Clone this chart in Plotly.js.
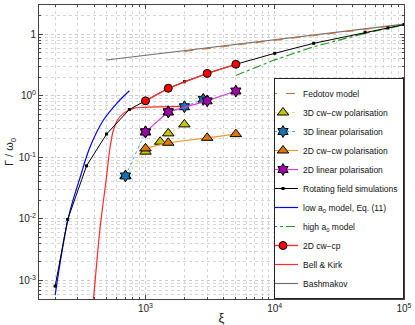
<!DOCTYPE html>
<html>
<head>
<meta charset="utf-8">
<script src="https://cdn.plot.ly/plotly-3.0.1.min.js"></script>
<style>
  body { margin: 0; background: #fff; }
  #grafica { width: 415px; height: 325px; }
</style>
</head>
<body>
<div id="grafica"></div>
<script>
// === Datos (xi, Gamma/omega0) ===
const xiRot = [200, 250, 350, 500, 750, 1000, 1500, 2000, 3000, 5000, 10000, 20000, 50000, 75000, 100000];
const gRot = [8.1e-4, 0.0098, 0.073, 0.24, 0.60, 0.83, 1.33, 1.70, 2.32, 3.26, 4.92, 7.15, 10.8, 12.7, 14.4];

const xiCp = [1000, 1500, 3000, 5000];
const gCp = [0.83, 1.33, 2.32, 3.26];

const xi3dCw = [700, 1000, 1300, 1500, 2000];
const g3dCw = [0.050, 0.124, 0.18, 0.246, 0.344];

const xi3dLin = [700, 1000, 1500, 2000, 2800];
const g3dLin = [0.050, 0.26, 0.55, 0.666, 0.88];

const xi2dCw = [1000, 1500, 3000, 5000];
const g2dCw = [0.140, 0.173, 0.208, 0.239];

const xi2dLin = [1000, 1500, 3000, 5000];
const g2dLin = [0.26, 0.55, 0.83, 1.2];

const xiLow = [200, 254, 313, 373, 473, 600, 751];
const gLow = [5.8e-4, 0.0108, 0.0484, 0.149, 0.405, 0.757, 1.21];

const xiHigh = [5000, 10000, 20000, 50000, 100000];
const gHigh = [2.15, 3.85, 6.3, 10.4, 14.2];

const xiBK = [396, 421, 446, 496, 533, 565, 607, 675, 807, 964, 1297, 2022];
const gBK = [5e-4, 2.1e-3, 7.4e-3, 0.043, 0.149, 0.279, 0.405, 0.52, 0.627, 0.651, 0.665, 0.676];

const xiFed = [2000, 100000];
const gFed = [5.3, 14.5];

const xiBash = [500, 100000];
const gBash = [3.83, 14.7];

const xTicks = [1e3, 1e4, 1e5];
const xTickText = ['10<sup>3</sup>', '10<sup>4</sup>', '10<sup>5</sup>'];
const yTicks = [1e-3, 1e-2, 1e-1, 1, 10];
const yTickText = ['10<sup>-3</sup>', '10<sup>-2</sup>', '10<sup>-1</sup>', '10<sup>0</sup>', '1'];

// === Rejilla menor (2..9 en cada década) ===
const menores = (dMin, dMax) => {
  const v = [];
  for (let d = dMin; d <= dMax; d++) {
    for (let k = 2; k <= 9; k++) v.push(k * Math.pow(10, d));
  }
  return v;
};

const traces = [
  { x: xiBash, y: gBash, name: 'Bashmakov', mode: 'lines',
    line: { color: '#707070', width: 1.2 }, legendrank: 11 },
  { x: xiFed, y: gFed, name: 'Fedotov model', mode: 'lines',
    line: { color: '#c07040', width: 1.2, dash: 'dash' }, legendrank: 1 },
  { x: xiBK, y: gBK, name: 'Bell &amp; Kirk', mode: 'lines',
    line: { color: '#ff2a2a', width: 1.2, shape: 'spline' }, legendrank: 10 },
  { x: xiLow, y: gLow, name: 'low a<sub>0</sub> model, Eq. (11)', mode: 'lines',
    line: { color: '#0000ff', width: 1.2, shape: 'spline' }, legendrank: 7 },
  { x: xiHigh, y: gHigh, name: 'high a<sub>0</sub> model', mode: 'lines',
    line: { color: '#1e9a1e', width: 1.1, dash: 'dashdot' }, legendrank: 8 },
  { x: xiRot, y: gRot, name: 'Rotating field simulations', mode: 'lines+markers',
    line: { color: '#000000', width: 1 },
    marker: { symbol: 'square', size: 3, color: '#000000' }, legendrank: 6 },
  { x: xiCp, y: gCp, name: '2D cw−cp', mode: 'lines+markers',
    line: { color: '#ff3030', width: 1.4 },
    marker: { symbol: 'circle', size: 8, color: '#ff0000', line: { color: '#000', width: 1 } },
    legendrank: 9 },
  { x: xi3dCw, y: g3dCw, name: '3D cw−cw polarisation', mode: 'lines+markers',
    line: { color: '#e4e27a', width: 1, dash: 'dot' },
    marker: { symbol: 'triangle-up', size: 10, color: '#c8c400', line: { color: '#000', width: 1 } },
    legendrank: 2 },
  { x: xi2dCw, y: g2dCw, name: '2D cw−cw polarisation', mode: 'lines+markers',
    line: { color: '#f09a30', width: 1.2 },
    marker: { symbol: 'triangle-up', size: 10, color: '#e07800', line: { color: '#000', width: 1 } },
    legendrank: 4 },
  { x: xi3dLin, y: g3dLin, name: '3D linear polarisation', mode: 'lines+markers',
    line: { color: '#4aa6e6', width: 1, dash: 'dot' },
    marker: { symbol: 'hexagram', size: 9, color: '#1a72b0', line: { color: '#000', width: 1 } },
    legendrank: 3 },
  { x: xi2dLin, y: g2dLin, name: '2D linear polarisation', mode: 'lines+markers',
    line: { color: '#d040d8', width: 1.2 },
    marker: { symbol: 'hexagram', size: 9, color: '#a000a8', line: { color: '#000', width: 1 } },
    legendrank: 5 }
];

const ejeComun = {
  type: 'log',
  ticks: 'inside',
  ticklen: 4,
  tickcolor: '#444',
  showline: true,
  linecolor: '#444',
  linewidth: 1,
  mirror: 'ticks',
  showgrid: true,
  gridcolor: '#cccccc',
  griddash: 'dot',
  gridwidth: 1,
  zeroline: false,
  tickfont: { size: 10, color: '#222' }
};

const layout = {
  width: 415,
  height: 325,
  margin: { l: 39, r: 11, t: 5, b: 26 },
  font: { family: 'Liberation Sans, Arial, sans-serif', color: '#222' },
  paper_bgcolor: '#ffffff',
  plot_bgcolor: '#ffffff',
  showlegend: true,
  xaxis: Object.assign({}, ejeComun, {
    range: [Math.log10(150), 5],
    tickvals: xTicks,
    ticktext: xTickText,
    minor: { tickvals: menores(2, 4).filter(v => v > 150), ticks: 'inside', ticklen: 2,
             tickcolor: '#444', showgrid: true, gridcolor: '#d6d6d6', griddash: 'dot' },
    title: { text: 'ξ', font: { size: 13 }, standoff: 0 }
  }),
  yaxis: Object.assign({}, ejeComun, {
    range: [Math.log10(5e-4), Math.log10(30)],
    tickvals: yTicks,
    ticktext: yTickText,
    minor: { tickvals: menores(-4, 1).filter(v => v > 5e-4 && v < 30), ticks: 'inside', ticklen: 2,
             tickcolor: '#444', showgrid: true, gridcolor: '#d6d6d6', griddash: 'dot' },
    title: { text: 'Γ / ω<sub>0</sub>', font: { size: 11 }, standoff: 2 }
  }),
  legend: {
    x: 1, xanchor: 'right', y: 0, yanchor: 'bottom',
    bgcolor: '#ffffff', bordercolor: '#222', borderwidth: 1,
    font: { size: 8.5, color: '#111' },
    itemwidth: 30, tracegroupgap: 0, indentation: -12
  }
};

Plotly.newPlot('grafica', traces, layout, { staticPlot: true });
</script>
</body>
</html>
